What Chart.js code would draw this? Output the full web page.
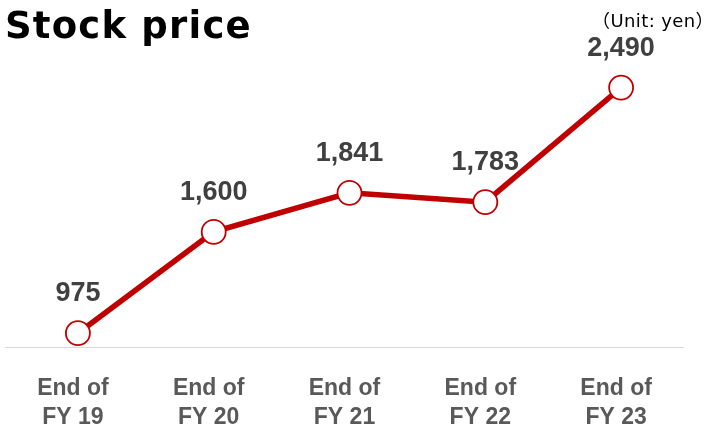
<!DOCTYPE html>
<html>
<head>
<meta charset="utf-8">
<script src="https://cdn.jsdelivr.net/npm/chart.js@4/dist/chart.umd.min.js"></script>
<style>
  html, body { margin: 0; padding: 0; background: #ffffff; }
  #wrap { position: relative; width: 707px; height: 427px; overflow: hidden; }
  #c { position: absolute; left: 0; top: 0; }
  #title { position: absolute; left: 5px; top: 7px; font-family: "DejaVu Sans", sans-serif; font-weight: bold; font-size: 37px; letter-spacing: 1.2px; color: #000; line-height: 1; white-space: nowrap; }
  #unit { position: absolute; right: -7px; top: 12px; font-family: "DejaVu Sans", "Noto Sans CJK JP", sans-serif; font-size: 18px; letter-spacing: 0.4px; color: #000; line-height: 1; white-space: nowrap; }
</style>
</head>
<body>
<div id="wrap">
  <canvas id="c" width="707" height="427"></canvas>
  <div id="title">Stock price</div>
  <div id="unit">（Unit: yen）</div>
</div>
<script>
const categories = [["End of", "FY 19"], ["End of", "FY 20"], ["End of", "FY 21"], ["End of", "FY 22"], ["End of", "FY 23"]];
const stockPrice = [975, 1600, 1841, 1783, 2490];
const yMin = 890;
const yMax = 2660;

const valueLabels = {
  id: 'valueLabels',
  afterDatasetsDraw(chart) {
    const ctx = chart.ctx;
    const meta = chart.getDatasetMeta(0);
    ctx.save();
    ctx.font = 'bold 27px "Liberation Sans", Arial, sans-serif';
    ctx.fillStyle = '#404040';
    ctx.textAlign = 'center';
    ctx.textBaseline = 'alphabetic';
    meta.data.forEach((pt, i) => {
      ctx.fillText(stockPrice[i].toLocaleString('en-US'), pt.x, pt.y - 32);
    });
    ctx.restore();
  }
};

const baseline = {
  id: 'baseline',
  beforeDatasetsDraw(chart) {
    const ctx = chart.ctx;
    const y = chart.scales.y.getPixelForValue(yMin);
    ctx.save();
    ctx.strokeStyle = '#d9d9d9';
    ctx.lineWidth = 1;
    ctx.beginPath();
    ctx.moveTo(chart.chartArea.left - 5, Math.round(y) + 0.5);
    ctx.lineTo(chart.chartArea.right - 5, Math.round(y) + 0.5);
    ctx.stroke();
    ctx.restore();
  }
};

new Chart(document.getElementById('c'), {
  type: 'line',
  data: {
    labels: categories,
    datasets: [{
      data: stockPrice,
      borderColor: '#c00000',
      borderWidth: 5.5,
      backgroundColor: '#ffffff',
      pointBackgroundColor: '#ffffff',
      pointBorderColor: '#c00000',
      pointBorderWidth: 1.8,
      pointRadius: 12,
      pointHoverRadius: 12,
      tension: 0,
      clip: false
    }]
  },
  plugins: [baseline, valueLabels],
  options: {
    responsive: false,
    animation: false,
    events: [],
    layout: { autoPadding: false, padding: { left: 10, right: 18, top: 60, bottom: 0 } },
    plugins: { legend: { display: false }, tooltip: { enabled: false }, title: { display: false } },
    scales: {
      x: {
        offset: true,
        grid: { display: false, drawTicks: false },
        border: { display: false },
        ticks: {
          color: '#595959',
          font: { family: '"Liberation Sans", Arial, sans-serif', weight: 'bold', size: 23, lineHeight: 1.26 },
          padding: 27,
          labelOffset: -5,
          maxRotation: 0,
          autoSkip: false
        },
        afterFit(axis) { axis.height = 80; axis.paddingLeft = 0; axis.paddingRight = 0; }
      },
      y: {
        display: false,
        min: yMin,
        max: yMax
      }
    }
  }
});
</script>
</body>
</html>
